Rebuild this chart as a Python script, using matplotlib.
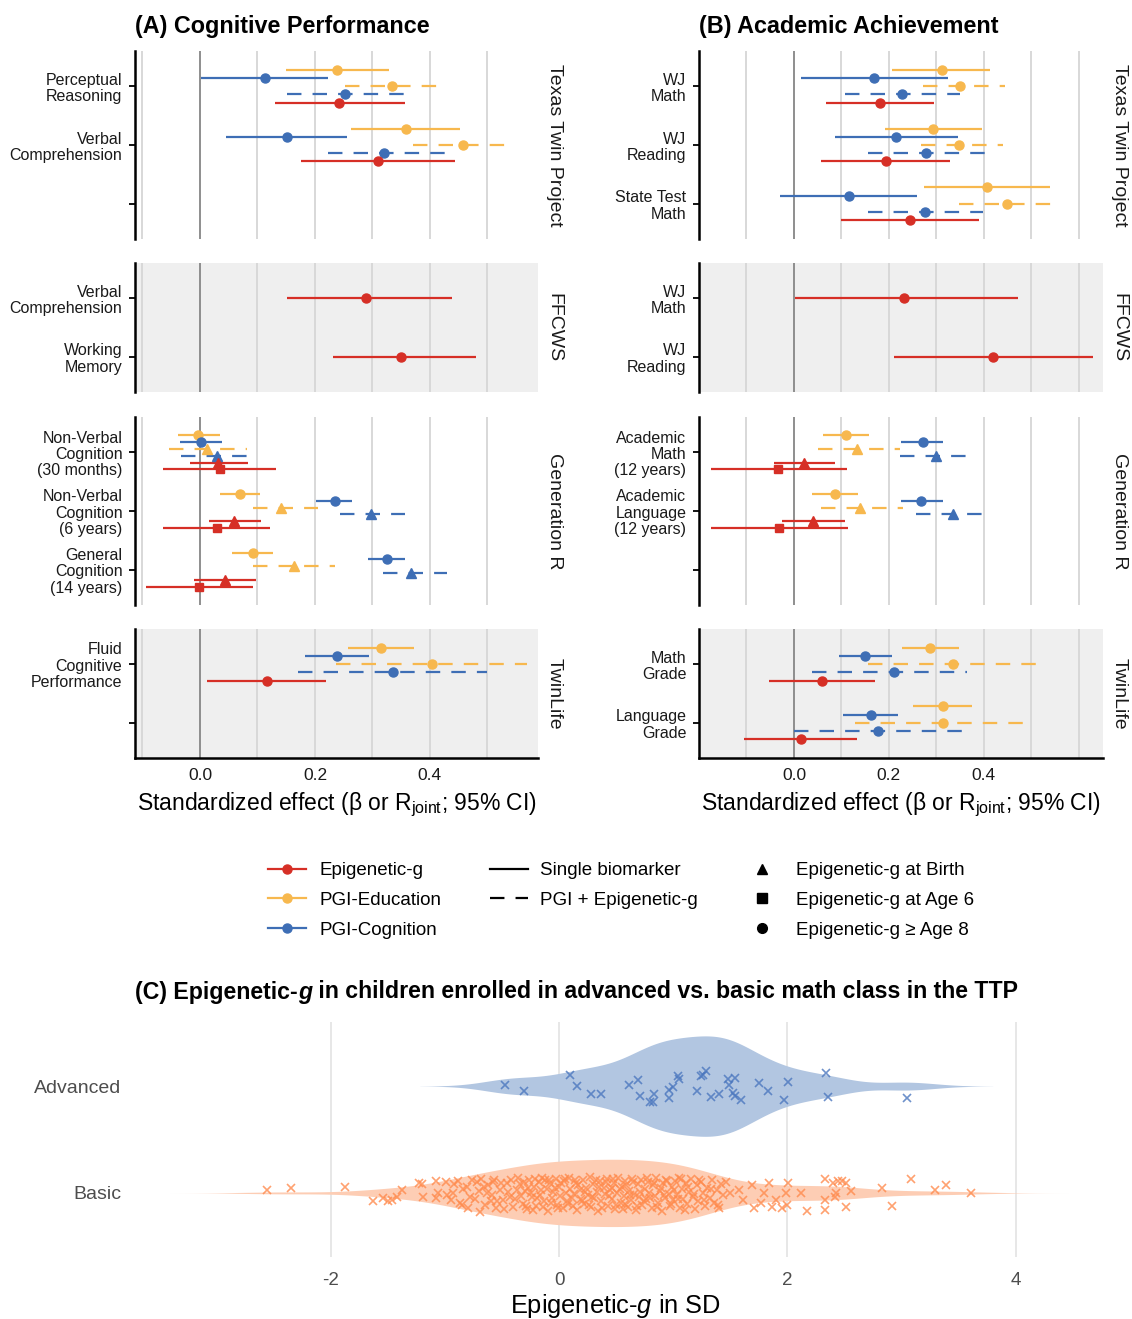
import numpy as np
import matplotlib.pyplot as plt
from matplotlib.lines import Line2D

plt.rcParams['font.family'] = ['Liberation Sans', 'DejaVu Sans']
plt.rcParams['mathtext.fontset'] = 'custom'
plt.rcParams['mathtext.rm'] = 'Liberation Sans'
plt.rcParams['mathtext.it'] = 'Liberation Sans:italic'
plt.rcParams['axes.unicode_minus'] = False

RED = '#D62F26'
ORANGE = '#F7B84E'
BLUE = '#3E6EB5'

# ---- data: (estimate, lower, upper) per category ----
a_ttp_cats = ["Perceptual\nReasoning", "Verbal\nComprehension", ""]
a_ttp = {
    "edu":       [(0.239, 0.150, 0.328), (0.358, 0.263, 0.453)],
    "cog":       [(0.113, 0.002, 0.222), (0.151, 0.046, 0.256)],
    "edu_joint": [(0.334, 0.253, 0.429), (0.457, 0.370, 0.546)],
    "cog_joint": [(0.253, 0.152, 0.356), (0.320, 0.222, 0.429)],
    "epi":       [(0.242, 0.130, 0.356), (0.310, 0.176, 0.444)],
}
a_ffcws_cats = ["Verbal\nComprehension", "Working\nMemory"]
a_ffcws = {"epi": [(0.289, 0.151, 0.438), (0.350, 0.231, 0.480)]}

a_genr_cats = ["Non-Verbal\nCognition\n(30 months)", "Non-Verbal\nCognition\n(6 years)",
               "General\nCognition\n(14 years)"]
a_genr = {
    "edu":         [(-0.003, -0.038, 0.035), (0.070, 0.035, 0.105), (0.092, 0.056, 0.127)],
    "cog":         [(0.002, -0.034, 0.038), (0.235, 0.202, 0.265), (0.325, 0.292, 0.357)],
    "edu_joint_b": [(0.013, -0.054, 0.081), (0.141, 0.093, 0.206), (0.164, 0.092, 0.235)],
    "cog_joint_b": [(0.030, -0.033, 0.098), (0.297, 0.244, 0.357), (0.367, 0.319, 0.430)],
    "epi_birth":   [(0.032, -0.018, 0.083), (0.060, 0.015, 0.107), (0.044, -0.010, 0.097)],
    "epi_age6":    [(0.034, -0.065, 0.133), (0.029, -0.065, 0.122), (-0.001, -0.093, 0.092)],
}
a_twin_cats = ["Fluid\nCognitive\nPerformance", ""]
a_twin = {
    "edu":       [(0.315, 0.258, 0.373)],
    "cog":       [(0.239, 0.182, 0.294)],
    "edu_joint": [(0.403, 0.237, 0.568)],
    "cog_joint": [(0.335, 0.171, 0.500)],
    "epi":       [(0.116, 0.013, 0.220)],
}

b_ttp_cats = ["WJ\nMath", "WJ\nReading", "State Test\nMath"]
b_ttp = {
    "edu":       [(0.311, 0.206, 0.414), (0.293, 0.191, 0.397), (0.407, 0.273, 0.540)],
    "cog":       [(0.169, 0.014, 0.324), (0.215, 0.086, 0.345), (0.116, -0.029, 0.260)],
    "edu_joint": [(0.349, 0.272, 0.444), (0.347, 0.268, 0.440), (0.449, 0.347, 0.553)],
    "cog_joint": [(0.228, 0.107, 0.350), (0.278, 0.155, 0.403), (0.277, 0.155, 0.399)],
    "epi":       [(0.182, 0.067, 0.296), (0.193, 0.056, 0.329), (0.244, 0.099, 0.389)],
}
b_ffcws_cats = ["WJ\nMath", "WJ\nReading"]
b_ffcws = {"epi": [(0.231, 0.002, 0.471), (0.420, 0.210, 0.630)]}

b_genr_cats = ["Academic\nMath\n(12 years)", "Academic\nLanguage\n(12 years)", ""]
b_genr = {
    "edu":         [(0.109, 0.062, 0.158), (0.086, 0.037, 0.135)],
    "cog":         [(0.271, 0.225, 0.315), (0.268, 0.225, 0.314)],
    "edu_joint_b": [(0.133, 0.050, 0.223), (0.139, 0.056, 0.229)],
    "cog_joint_b": [(0.300, 0.223, 0.383), (0.335, 0.257, 0.414)],
    "epi_birth":   [(0.022, -0.041, 0.086), (0.041, -0.025, 0.107)],
    "epi_age6":    [(-0.034, -0.175, 0.111), (-0.032, -0.175, 0.113)],
}
b_twin_cats = ["Math\nGrade", "Language\nGrade"]
b_twin = {
    "edu":       [(0.287, 0.227, 0.347), (0.314, 0.250, 0.375)],
    "cog":       [(0.150, 0.094, 0.206), (0.162, 0.103, 0.220)],
    "edu_joint": [(0.335, 0.156, 0.515), (0.314, 0.129, 0.495)],
    "cog_joint": [(0.211, 0.038, 0.365), (0.177, 0.000, 0.356)],
    "epi":       [(0.059, -0.053, 0.171), (0.014, -0.105, 0.133)],
}

cohorts = ["Texas Twin Project", "FFCWS", "Generation R", "TwinLife"]

# ---- violin data: (epigenetic-g in SD, vertical jitter) ----
adv_pts = [(-0.47, 0.01), (-0.31, -0.05), (0.10, 0.10), (0.16, 0.0), (0.28, -0.07), (0.37, -0.07),
           (0.61, 0.01), (0.69, 0.06), (0.71, -0.09), (0.80, -0.15), (0.83, -0.07), (0.82, -0.15),
           (0.96, -0.04), (0.96, -0.11), (1.00, -0.01), (1.04, 0.09), (1.05, 0.07), (1.21, -0.05),
           (1.24, 0.09), (1.26, 0.10), (1.29, 0.14), (1.33, -0.10), (1.40, -0.07), (1.48, 0.07),
           (1.54, 0.08), (1.49, 0.01), (1.52, -0.06), (1.54, -0.09), (1.59, -0.13), (1.75, 0.03),
           (1.83, -0.05), (1.97, -0.13), (2.01, 0.04), (2.34, 0.12), (2.36, -0.10), (3.05, -0.11)]

basic_pts = [
    (-2.56, 0.03), (-2.35, 0.05), (-1.88, 0.06), (-1.63, -0.08), (-1.54, -0.05), (-1.50, -0.08),
    (-1.46, -0.07), (-1.42, -0.04), (-1.38, 0.03), (-1.23, 0.09), (-1.20, 0.08), (-1.19, -0.04),
    (-1.08, 0.11), (-1.08, -0.05), (-0.99, 0.10), (-0.89, 0.11), (-1.06, 0.0), (-0.95, -0.07),
    (-0.93, 0.0), (-0.85, -0.11), (-0.81, 0.06), (-0.78, -0.04), (-0.72, 0.10), (-0.69, -0.18),
    (-0.66, 0.06), (-0.63, 0.0), (-0.60, -0.08), (-0.58, 0.10), (-0.55, -0.14), (-0.52, 0.03),
    (-0.49, -0.07), (-0.46, 0.09), (-0.43, -0.04), (-0.40, -0.13), (-0.37, 0.03),
    (-0.98, -0.02), (-0.92, 0.08), (-0.87, -0.09), (-0.84, 0.04), (-0.80, -0.14), (-0.76, 0.12),
    (-0.74, -0.06), (-0.70, 0.02), (-0.68, 0.13), (-0.65, -0.11), (-0.62, 0.07), (-0.59, -0.02),
    (-0.57, 0.12), (-0.54, -0.08), (-0.51, 0.09), (-0.48, -0.15), (-0.45, 0.01), (-0.42, 0.12),
    (-0.39, -0.06), (-0.36, 0.14), (-0.33, -0.03), (-0.31, 0.10), (-0.29, -0.12), (-0.27, 0.05),
    (-0.23, -0.16), (-0.21, 0.13), (-0.19, -0.05), (-0.16, 0.03), (-0.14, -0.13), (-0.09, 0.12),
    (-0.07, -0.09), (-0.04, 0.05), (-0.01, -0.14), (0.05, 0.13), (0.11, -0.05), (0.17, 0.07),
    (0.26, -0.11), (0.32, 0.12), (0.46, 0.05), (0.58, -0.10),
    (-0.34, 0.08), (-0.32, -0.10), (-0.30, 0.02), (-0.28, -0.15), (-0.26, 0.12), (-0.24, -0.04),
    (-0.22, 0.06), (-0.20, -0.12), (-0.18, 0.10), (-0.17, -0.02), (-0.15, 0.14), (-0.13, -0.08),
    (-0.11, 0.04), (-0.10, -0.17), (-0.08, 0.09), (-0.06, -0.05), (-0.05, 0.01), (-0.03, 0.13),
    (-0.02, -0.11), (0.00, 0.06), (0.01, -0.03), (0.03, -0.14), (0.04, 0.11), (0.06, 0.00),
    (0.07, -0.08), (0.09, 0.14), (0.10, 0.04), (0.12, -0.12), (0.13, -0.01), (0.15, 0.09),
    (0.16, -0.16), (0.18, 0.03), (0.19, -0.06), (0.21, 0.12), (0.22, -0.10), (0.24, 0.05),
    (0.25, -0.02), (0.27, 0.15), (0.28, -0.13), (0.30, 0.08), (0.31, -0.05), (0.33, 0.01),
    (0.34, -0.17), (0.36, 0.11), (0.37, -0.08), (0.39, 0.05), (0.40, -0.01), (0.42, 0.13),
    (0.43, -0.12), (0.45, 0.03), (0.46, -0.06), (0.48, 0.09), (0.49, -0.15), (0.51, 0.00),
    (0.52, 0.14), (0.54, -0.09), (0.55, 0.06), (0.57, -0.03), (0.58, 0.11), (0.60, -0.13),
    (0.61, 0.02), (0.63, -0.07), (0.64, 0.13), (0.66, -0.01), (0.67, -0.16), (0.69, 0.08),
    (0.70, -0.04), (0.72, 0.12), (0.73, -0.11), (0.75, 0.04), (0.76, -0.06), (0.78, 0.10),
    (0.79, 0.00), (0.81, -0.14), (0.82, 0.07), (0.84, -0.03), (0.85, 0.14), (0.87, -0.09),
    (0.88, 0.02), (0.90, -0.17), (0.91, 0.09), (0.93, -0.05), (0.94, 0.12), (0.96, -0.01),
    (0.97, -0.12), (0.99, 0.06), (1.00, -0.07), (1.02, 0.11), (1.03, -0.02), (1.05, 0.14),
    (1.06, -0.14), (1.08, 0.04), (1.09, -0.06), (1.11, 0.09), (1.12, -0.10), (1.14, 0.01),
    (1.16, 0.13), (1.17, -0.04), (1.19, -0.15), (1.21, 0.07), (1.22, -0.08), (1.24, 0.10),
    (1.26, 0.00), (1.28, -0.12), (1.30, 0.05), (1.32, -0.05), (1.34, 0.12), (1.36, -0.09),
    (1.38, 0.03), (1.40, -0.14), (1.42, 0.08), (1.44, -0.02), (1.46, 0.10),
    (-0.25, 0.00), (-0.12, 0.12), (0.02, 0.09), (0.08, -0.10), (0.14, 0.12), (0.20, -0.08),
    (0.23, 0.01), (0.29, -0.04), (0.35, 0.06), (0.38, -0.14), (0.41, 0.10), (0.44, -0.03),
    (0.47, 0.13), (0.50, -0.11), (0.53, 0.04), (0.56, -0.15), (0.59, 0.07), (0.62, -0.02),
    (0.65, 0.10), (0.68, -0.12), (0.71, 0.01), (0.74, -0.08), (0.77, 0.14), (0.80, -0.05),
    (0.83, 0.09), (0.86, -0.13), (0.89, 0.05), (0.92, -0.02), (0.95, 0.11), (0.98, -0.10),
    (1.01, 0.03), (1.04, -0.06), (1.07, 0.13), (1.10, -0.16), (1.13, 0.06), (1.18, -0.01),
    (1.23, 0.12), (1.27, -0.07), (1.33, 0.04), (1.39, -0.11),
    (1.50, 0.0), (1.58, 0.03), (1.61, -0.07), (1.69, 0.07), (1.71, -0.14), (1.77, -0.09),
    (1.80, 0.0), (1.84, 0.09), (1.87, -0.13), (1.90, -0.07), (1.95, -0.14), (1.99, 0.0),
    (2.01, 0.09), (2.00, -0.11), (2.12, 0.0), (2.17, -0.17), (2.33, 0.13), (2.33, -0.07),
    (2.33, -0.16), (2.40, 0.09), (2.44, 0.11), (2.48, 0.11), (2.51, 0.09), (2.43, 0.0),
    (2.42, -0.04), (2.56, 0.02), (2.51, -0.13), (2.83, 0.05), (2.92, -0.12), (3.08, 0.13),
    (3.29, 0.03), (3.39, 0.07), (3.61, 0.0)]

# ---- styles ----
STYLE = {
    "epi": (RED, "-", "o"), "edu": (ORANGE, "-", "o"), "cog": (BLUE, "-", "o"),
    "edu_joint": (ORANGE, "--", "o"), "cog_joint": (BLUE, "--", "o"),
    "edu_joint_b": (ORANGE, "--", "^"), "cog_joint_b": (BLUE, "--", "^"),
    "epi_birth": (RED, "-", "^"), "epi_age6": (RED, "-", "s"),
}
DASH = (0, (6.5, 5))
W, H = 1132, 1319
fig = plt.figure(figsize=(W / 100, H / 100), dpi=100)


def px_axes(x0, y0, x1, y1):
    return fig.add_axes([x0 / W, 1 - y1 / H, (x1 - x0) / W, (y1 - y0) / H])


def draw_panel(ax, cats, data, xlim, grid, grey, bottom, strip):
    n = len(cats)
    k = len(data)
    ax.set_facecolor('#EFEFEF' if grey else 'white')
    for g in grid:
        ax.axvline(g, color='#D6D6D6', lw=1.3, zorder=0)
    ax.axvline(0, color='#8E8E8E', lw=1.4, zorder=0.5)
    for j, key in enumerate(data):
        col, ls, mk = STYLE[key]
        off = (j - (k - 1) / 2) * 0.7 / k
        for i, (est, lo, hi) in enumerate(data[key]):
            y = i + 1 + off
            ax.plot([lo, hi], [y, y], color=col, lw=1.6,
                    ls=DASH if ls == '--' else '-', zorder=2, solid_capstyle='butt')
            ax.plot([est], [y], marker=mk, color=col, ms=6.5 if mk != 's' else 6, zorder=3)
    ax.set_xlim(xlim)
    ax.set_ylim(n + 0.6, 0.4)
    ax.set_yticks(range(1, n + 1))
    ax.set_yticklabels(cats, fontsize=11.5, color='#1A1A1A', linespacing=1.12)
    ax.tick_params(axis='y', length=4, width=1.3, color='black', pad=5)
    for s in ('top', 'right'):
        ax.spines[s].set_visible(False)
    ax.spines['left'].set_linewidth(1.8)
    if bottom:
        ax.spines['bottom'].set_linewidth(1.8)
        ax.set_xticks([0, 0.2, 0.4])
        ax.set_xticklabels(['0.0', '0.2', '0.4'], fontsize=12.5, color='#1A1A1A')
        ax.tick_params(axis='x', length=0, pad=7)
        ax.set_xlabel('Standardized effect (\u03b2 or R$_{\\mathrm{joint}}$; 95% CI)',
                      fontsize=16.5, labelpad=6)
    else:
        ax.spines['bottom'].set_visible(False)
        ax.set_xticks([])
    ax.text(1 + 16 / 403, 0.5, strip, transform=ax.transAxes, rotation=270,
            ha='center', va='center', fontsize=14, color='#1A1A1A')


rows_px = [(51, 239), (263, 392), (417, 605), (629, 758)]
left_sets = [(a_ttp_cats, a_ttp), (a_ffcws_cats, a_ffcws), (a_genr_cats, a_genr), (a_twin_cats, a_twin)]
right_sets = [(b_ttp_cats, b_ttp), (b_ffcws_cats, b_ffcws), (b_genr_cats, b_genr), (b_twin_cats, b_twin)]
grid_a = [-0.1, 0.1, 0.2, 0.3, 0.4, 0.5]
grid_b = [-0.1, 0.1, 0.2, 0.3, 0.4, 0.5, 0.6]

for r, (y0, y1) in enumerate(rows_px):
    axl = px_axes(135, y0, 538, y1)
    draw_panel(axl, *left_sets[r], (-0.113, 0.588), grid_a, r % 2 == 1, r == 3, cohorts[r])
    axr = px_axes(699, y0, 1103, y1)
    draw_panel(axr, *right_sets[r], (-0.2, 0.651), grid_b, r % 2 == 1, r == 3, cohorts[r])

fig.text(135 / W, 1 - 26 / H, '(A) Cognitive Performance', fontsize=16.8, fontweight='bold',
         va='center', ha='left')
fig.text(699 / W, 1 - 26 / H, '(B) Academic Achievement', fontsize=16.8, fontweight='bold',
         va='center', ha='left')

# ---- legends ----
leg_kw = dict(loc='upper left', frameon=False, fontsize=13.5, handlelength=2.0,
              labelspacing=0.68, borderpad=0, borderaxespad=0)
h1 = [Line2D([], [], color=c, lw=1.6, marker='o', ms=6.5) for c in (RED, ORANGE, BLUE)]
fig.legend(h1, ['Epigenetic-g', 'PGI-Education', 'PGI-Cognition'],
           bbox_to_anchor=(268 / W, 1 - 862 / H), handletextpad=0.75, **leg_kw)
h2 = [Line2D([], [], color='black', lw=1.6), Line2D([], [], color='black', lw=1.6, ls=DASH)]
fig.legend(h2, ['Single biomarker', 'PGI + Epigenetic-g'],
           bbox_to_anchor=(490 / W, 1 - 862 / H), handletextpad=0.68, **leg_kw)
h3 = [Line2D([], [], color='black', ls='none', marker=m, ms=7) for m in ('^', 's', 'o')]
fig.legend(h3, ['Epigenetic-g at Birth', 'Epigenetic-g at Age 6', 'Epigenetic-g \u2265 Age 8'],
           bbox_to_anchor=(743 / W, 1 - 862 / H), handletextpad=0.8, **leg_kw)

# ---- violin panel ----
axv = px_axes(130, 1022, 1100, 1257)
groups = [adv_pts, basic_pts]
fills = ['#B2C6E1', '#FDCDB4']
pcols = ['#4A76BE', '#FF8A4C']


def kde(vals):
    vals = np.asarray(vals)
    n = len(vals)
    q75, q25 = np.percentile(vals, [75, 25])
    bw = 0.9 * min(vals.std(ddof=1), (q75 - q25) / 1.34) * n ** -0.2
    xs = np.linspace(vals.min() - 3 * bw, vals.max() + 3 * bw, 512)
    dens = np.exp(-0.5 * ((xs[:, None] - vals[None, :]) / bw) ** 2).sum(1) / (n * bw * np.sqrt(2 * np.pi))
    return xs, dens


curves = [kde([p[0] for p in g]) for g in groups]
dmax = max(d.max() for _, d in curves)
for pos, ((xs, d), g, fc, pc) in enumerate(zip(curves, groups, fills, pcols)):
    half = d / dmax * 0.47
    axv.fill_between(xs, pos - half, pos + half, color=fc, lw=0, zorder=1)
    px = [p[0] for p in g]
    py = [pos - p[1] for p in g]
    axv.plot(px, py, ls='none', marker='x', ms=6, mew=1.2, color=pc, alpha=0.8, zorder=2)

for g in (-2, 0, 2, 4):
    axv.axvline(g, color='#E3E3E3', lw=1.2, zorder=0)
axv.set_xlim(-3.76, 4.74)
axv.set_ylim(1.6, -0.6)
axv.set_yticks([0, 1])
axv.set_yticklabels(['Advanced', 'Basic'], fontsize=14, color='#4D4D4D')
axv.set_xticks([-2, 0, 2, 4])
axv.set_xticklabels(['-2', '0', '2', '4'], fontsize=13.5, color='#4D4D4D')
axv.tick_params(axis='y', length=0, pad=6)
axv.tick_params(axis='x', length=0, pad=11)
for s in axv.spines.values():
    s.set_visible(False)
axv.set_xlabel('Epigenetic-$g$ in SD', fontsize=18.3, labelpad=2)

t1 = fig.text(135 / W, 1 - 992 / H, '(C) Epigenetic-', fontsize=16.7, fontweight='bold',
              va='center', ha='left')
t2 = axv.annotate('g', xy=(1, 0), xycoords=t1, va='bottom', ha='left', fontsize=16.7,
                  fontweight='bold', style='italic')
axv.annotate(' in children enrolled in advanced vs. basic math class in the TTP', xy=(1, 0),
             xycoords=t2, va='bottom', ha='left', fontsize=16.7, fontweight='bold')

fig.savefig('out.png', dpi=100)
